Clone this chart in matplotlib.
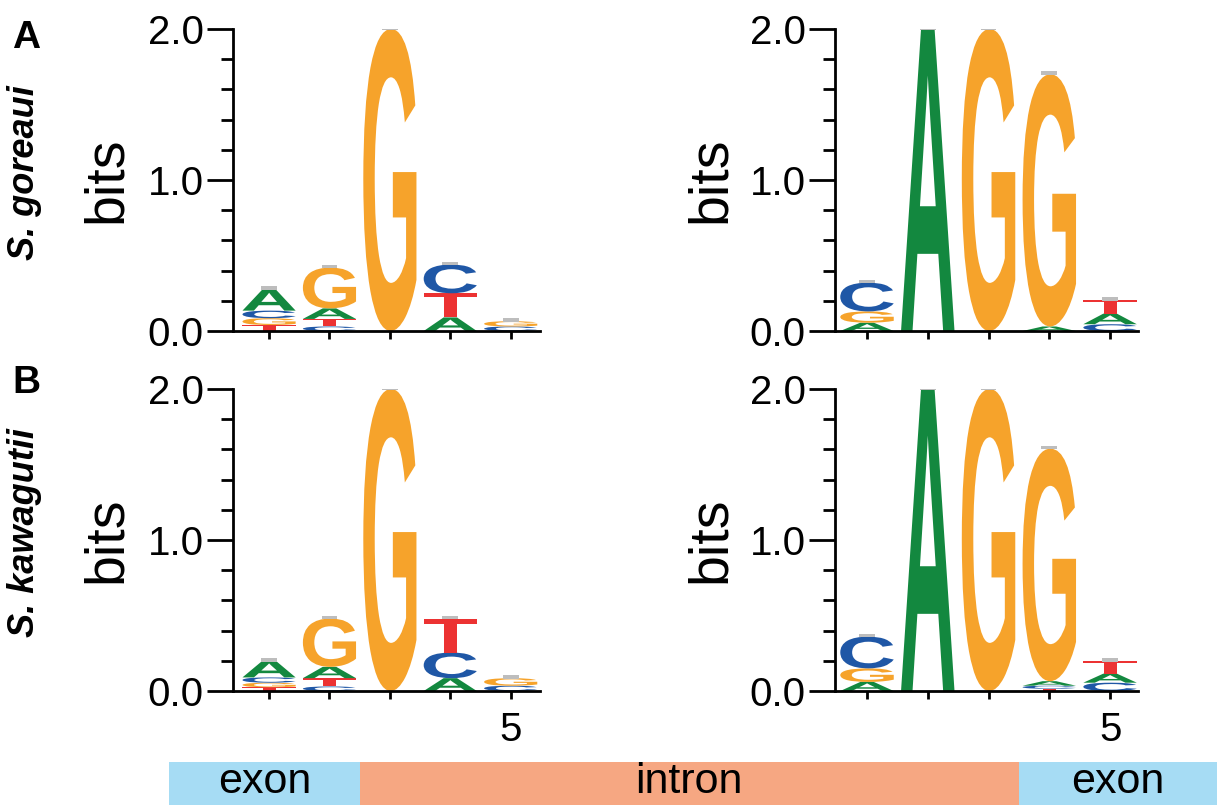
import matplotlib.pyplot as plt
from matplotlib.textpath import TextPath
from matplotlib.font_manager import FontProperties
from matplotlib.patches import PathPatch, Rectangle
from matplotlib.transforms import Affine2D

plt.rcParams['font.family'] = ['Liberation Sans', 'DejaVu Sans']

positions = [1, 2, 3, 4, 5]
bases = ['A', 'C', 'G', 'T']
base_colors = {'A': '#13883f', 'C': '#1f57a6', 'G': '#f6a32b', 'T': '#ec3232'}

# bits per base at each position
goreaui_donor = {'A': [0.14, 0.07, 0.0, 0.09, 0.0],
                 'C': [0.05, 0.03, 0.0, 0.19, 0.03],
                 'G': [0.045, 0.27, 2.0, 0.0, 0.035],
                 'T': [0.04, 0.05, 0.0, 0.16, 0.0]}
goreaui_acceptor = {'A': [0.055, 2.0, 0.0, 0.03, 0.07],
                    'C': [0.19, 0.0, 0.0, 0.0, 0.045],
                    'G': [0.075, 0.0, 2.0, 1.67, 0.0],
                    'T': [0.0, 0.0, 0.0, 0.0, 0.09]}
kawagutii_donor = {'A': [0.11, 0.075, 0.0, 0.085, 0.0],
                   'C': [0.035, 0.03, 0.0, 0.17, 0.035],
                   'G': [0.03, 0.32, 2.0, 0.0, 0.05],
                   'T': [0.025, 0.055, 0.0, 0.225, 0.0]}
kawagutii_acceptor = {'A': [0.06, 2.0, 0.0, 0.03, 0.06],
                      'C': [0.21, 0.0, 0.0, 0.02, 0.055],
                      'G': [0.09, 0.0, 2.0, 1.54, 0.0],
                      'T': [0.0, 0.0, 0.0, 0.015, 0.085]}

species = ['S. goreaui', 'S. kawagutii']
panel_tags = ['A', 'B']
regions = ['exon', 'intron', 'exon']
region_colors = ['#a6dcf4', '#f6a782', '#a6dcf4']

glyph_font = FontProperties(family='Liberation Sans', weight='bold')


def draw_letter(ax, base, x, y, w, h):
    tp = TextPath((0, 0), base, size=1, prop=glyph_font)
    ext = tp.get_extents()
    t = Affine2D().translate(-ext.x0, -ext.y0).scale(w / ext.width, h / ext.height).translate(x - w / 2, y)
    ax.add_patch(PathPatch(t.transform_path(tp), fc=base_colors[base], lw=0, zorder=2))


def draw_logo(ax, counts):
    for i, x in enumerate(positions):
        stack = sorted([(counts[b][i], b) for b in bases if counts[b][i] > 0])
        y = 0
        for h, b in stack:
            draw_letter(ax, b, x, y, 0.88, h)
            y += h
        ax.add_patch(Rectangle((x - 0.13, y - 0.005), 0.26, 0.025, fc='#bdbdbd', lw=0, zorder=3))


def style_axes(ax, xlim, show5):
    ax.set_xlim(*xlim)
    ax.set_ylim(0, 2)
    for s in ['top', 'right']:
        ax.spines[s].set_visible(False)
    for s in ['left', 'bottom']:
        ax.spines[s].set_linewidth(2)
    ax.set_yticks([0, 1, 2])
    ax.set_yticklabels(['0.0', '1.0', '2.0'])
    ax.set_yticks([0.2, 0.4, 0.6, 0.8, 1.2, 1.4, 1.6, 1.8], minor=True)
    ax.tick_params(axis='y', which='major', length=19, width=2, labelsize=29, pad=2)
    ax.tick_params(axis='y', which='minor', length=8.5, width=2)
    ax.set_xticks(positions)
    ax.set_xticklabels(['', '', '', '', '5' if show5 else ''])
    ax.tick_params(axis='x', length=5.5, width=2, labelsize=29, pad=9)
    ax.set_ylabel('bits', fontsize=40, va='center')
    ax.yaxis.set_label_coords(-0.41, 0.5)


fig = plt.figure(figsize=(12.17, 8.05), dpi=100)

ax_tl = fig.add_axes([0.1915, 0.5888, 0.2523, 0.3752])
ax_tr = fig.add_axes([0.6861, 0.5888, 0.2490, 0.3752])
ax_bl = fig.add_axes([0.1915, 0.1416, 0.2523, 0.3752])
ax_br = fig.add_axes([0.6861, 0.1416, 0.2490, 0.3752])

draw_logo(ax_tl, goreaui_donor)
draw_logo(ax_tr, goreaui_acceptor)
draw_logo(ax_bl, kawagutii_donor)
draw_logo(ax_br, kawagutii_acceptor)

style_axes(ax_tl, (0.404, 5.487), False)
style_axes(ax_bl, (0.404, 5.487), True)
style_axes(ax_tr, (0.473, 5.46), False)
style_axes(ax_br, (0.473, 5.46), True)

# panel tags and species names
fig.text(0.0215, 0.953, panel_tags[0], fontsize=28, weight='bold', ha='center', va='center')
fig.text(0.0215, 0.524, panel_tags[1], fontsize=28, weight='bold', ha='center', va='center')
fig.text(0.0205, 0.785, species[0], fontsize=26, weight='bold', style='italic',
         rotation=90, ha='center', va='center')
fig.text(0.0205, 0.338, species[1], fontsize=26, weight='bold', style='italic',
         rotation=90, ha='center', va='center')

# exon / intron bar, split at the splice sites
inv = fig.transFigure.inverted()
split1 = inv.transform(ax_bl.transData.transform((2.5, 0)))[0]
split2 = inv.transform(ax_br.transData.transform((3.5, 0)))[0]
edges = [0.1389, split1, split2, 1.0]
bar_h = 43 / 805
for i, name in enumerate(regions):
    fig.patches.append(Rectangle((edges[i], 0), edges[i + 1] - edges[i], bar_h,
                                 transform=fig.transFigure, fc=region_colors[i], lw=0))
    fig.text((edges[i] + edges[i + 1]) / 2, 0.0149, name, fontsize=31,
             ha='center', va='baseline')

fig.savefig('out.png', dpi=100)
